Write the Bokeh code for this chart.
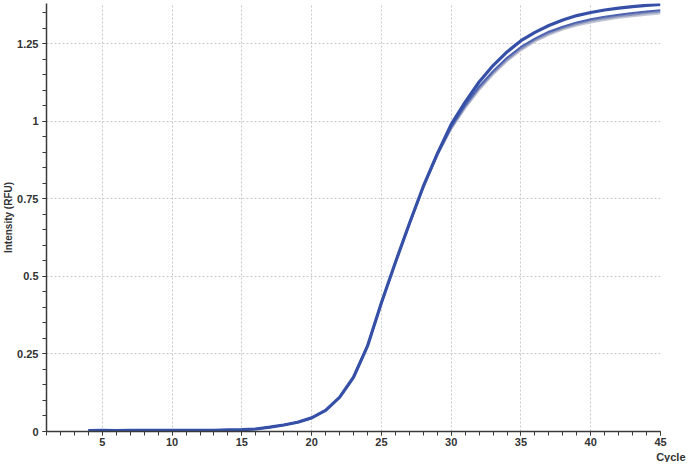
import math
from bokeh.plotting import figure
from bokeh.models import (Range1d, FixedTicker, CustomJSTickFormatter, Title, ColumnDataSource)
from bokeh.embed import file_html
from bokeh.resources import INLINE

cycles = list(range(4, 46))

rfu_a = [0.003, 0.004, 0.003, 0.004, 0.004, 0.004, 0.004, 0.004, 0.004, 0.004,
         0.005, 0.006, 0.008, 0.014, 0.021, 0.030, 0.044, 0.068, 0.110, 0.175,
         0.275, 0.415, 0.545, 0.670, 0.790, 0.895, 0.990, 1.062, 1.127, 1.180,
         1.224, 1.260, 1.287, 1.309, 1.327, 1.341, 1.351, 1.359, 1.365, 1.370,
         1.374, 1.377]
rfu_b = [0.003, 0.004, 0.003, 0.004, 0.004, 0.004, 0.004, 0.004, 0.004, 0.004,
         0.005, 0.006, 0.008, 0.014, 0.021, 0.030, 0.044, 0.068, 0.110, 0.175,
         0.275, 0.415, 0.545, 0.670, 0.790, 0.893, 0.982, 1.052, 1.112, 1.162,
         1.205, 1.240, 1.267, 1.289, 1.305, 1.319, 1.329, 1.337, 1.344, 1.349,
         1.354, 1.358]
rfu_c = [0.003, 0.004, 0.003, 0.004, 0.004, 0.004, 0.004, 0.004, 0.004, 0.004,
         0.005, 0.006, 0.008, 0.014, 0.021, 0.030, 0.044, 0.068, 0.110, 0.175,
         0.275, 0.414, 0.544, 0.668, 0.788, 0.891, 0.978, 1.047, 1.106, 1.156,
         1.199, 1.234, 1.262, 1.284, 1.301, 1.314, 1.324, 1.332, 1.339, 1.344,
         1.349, 1.353]
rfu_d = [0.003, 0.004, 0.003, 0.004, 0.004, 0.004, 0.004, 0.004, 0.004, 0.004,
         0.005, 0.006, 0.008, 0.014, 0.021, 0.030, 0.044, 0.068, 0.110, 0.175,
         0.275, 0.414, 0.543, 0.667, 0.786, 0.889, 0.975, 1.042, 1.101, 1.151,
         1.194, 1.229, 1.257, 1.279, 1.296, 1.309, 1.319, 1.327, 1.334, 1.339,
         1.344, 1.348]

x_major = [5, 10, 15, 20, 25, 30, 35, 40, 45]
x_minor = list(range(1, 46))
y_major = [0, 0.25, 0.5, 0.75, 1, 1.25]
y_minor = [round(i * 0.05, 2) for i in range(0, 28)]

FONT = "Liberation Sans"

p = figure(frame_width=614, frame_height=428, output_backend="svg",
           toolbar_location=None, x_range=Range1d(1, 45), y_range=Range1d(0, 1.38),
           min_border_left=46, min_border_right=26, min_border_top=3,
           min_border_bottom=4)
p.outline_line_color = None
p.background_fill_color = "white"
p.border_fill_color = "white"

for ax, major, minor in ((p.xaxis[0], x_major, x_minor), (p.yaxis[0], y_major, y_minor)):
    ax.ticker = FixedTicker(ticks=major, minor_ticks=minor)
    ax.formatter = CustomJSTickFormatter(code="return String(Math.round(tick*100)/100);")
    ax.axis_line_color = "#3a3a3a"
    ax.axis_line_width = 1.5
    ax.major_tick_line_color = "#3a3a3a"
    ax.minor_tick_line_color = "#3a3a3a"
    ax.major_tick_in = 0
    ax.major_tick_out = 4
    ax.minor_tick_in = 0
    ax.minor_tick_out = 4
    ax.major_label_text_font = FONT
    ax.major_label_text_font_size = "11px"
    ax.major_label_text_color = "#333333"
    ax.major_label_text_font_style = "bold"

p.xaxis[0].major_label_standoff = 2
p.yaxis[0].major_label_standoff = 4

p.yaxis[0].axis_label = "Intensity (RFU)"
p.yaxis[0].axis_label_text_font = FONT
p.yaxis[0].axis_label_text_font_size = "10px"
p.yaxis[0].axis_label_text_font_style = "bold"
p.yaxis[0].axis_label_text_color = "#333333"
p.yaxis[0].axis_label_standoff = 0

p.add_layout(Title(text="Cycle", align="right", offset=-25, text_font=FONT,
                   text_font_size="11px", text_font_style="bold", text_color="#333333",
                   standoff=0), "below")

p.xgrid.ticker = FixedTicker(ticks=[5, 10, 15, 20, 25, 30, 35, 40])
p.ygrid.ticker = FixedTicker(ticks=[0.25, 0.5, 0.75, 1, 1.25])
for g in (p.xgrid[0], p.ygrid[0]):
    g.grid_line_color = "#c8c8c8"
    g.grid_line_dash = "2 2"
    g.grid_line_width = 1

src = ColumnDataSource(dict(x=cycles, a=rfu_a, b=rfu_b, c=rfu_c, d=rfu_d))
p.line("x", "d", source=src, line_color="#c2c5d4", line_width=2)
p.line("x", "c", source=src, line_color="#8a93bb", line_width=2)
p.line("x", "b", source=src, line_color="#4d63b0", line_width=2)
p.line("x", "a", source=src, line_color="#3550a6", line_width=3.2)

open("out.html", "w").write(file_html(p, INLINE))
